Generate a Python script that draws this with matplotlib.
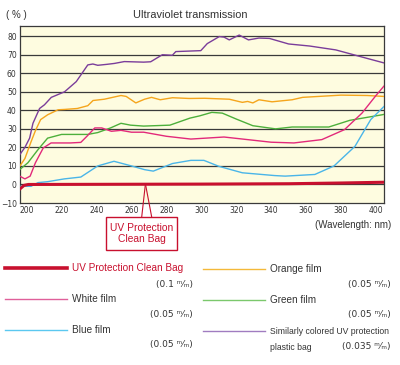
import matplotlib
matplotlib.use("Agg")
import matplotlib.pyplot as plt
from matplotlib.lines import Line2D
from matplotlib.patches import ConnectionPatch, Rectangle

# wavelength (nm) / transmission (%)
clean_wl = [196, 198.5, 201, 250, 300, 350, 380, 404.5]
clean_val = [-2.5, -0.5, 0.0, 0.1, 0.2, 0.4, 0.8, 1.2]

white_wl = [196, 199, 202, 205, 209.5, 214, 225, 231, 234.5, 239, 243, 248.5,
            254, 260, 267, 280, 294, 313, 340, 353, 369, 382, 392, 400, 404.5]
white_val = [4.5, 3, 4.5, 11.7, 19.7, 22.4, 22.4, 22.7, 26, 30.5, 30.5, 28.7,
             29.2, 28.2, 28.2, 26, 24.5, 25.6, 22.8, 22.4, 24.2, 29.6, 38.5, 48, 53]

blue_wl = [196, 202.5, 206.5, 212, 221.5, 231, 240.7, 250, 260, 267.5, 272.5,
           283.5, 294, 301.5, 310, 323.5, 342, 348, 365, 376, 388, 397, 404.5]
blue_val = [-1, -1, 1, 1.5, 3, 4, 10, 12.5, 10, 8, 7.2,
            11.3, 13, 13, 9.8, 6.3, 4.8, 4.5, 5.4, 10, 20.6, 35, 42]

orange_wl = [196, 199, 202.5, 205, 208, 212, 218, 222, 229, 235, 238, 244.5,
             254, 257, 262.5, 267.5, 271.5, 276.5, 283.5, 293, 302, 316, 323.5,
             326.5, 329.5, 333, 340.5, 352, 358, 380, 395, 404.5]
orange_val = [9.8, 14, 23, 29, 35, 37.6, 40.3, 40.5, 41, 42.5, 45.3, 46,
              48, 47.5, 44, 46, 47, 45.7, 46.8, 46.4, 46.5, 46, 44.3,
              44.8, 44, 45.7, 44.6, 45.7, 47, 48.2, 48, 47.5]

green_wl = [196, 200.7, 206.5, 212, 220, 235, 240.7, 248, 254, 259.5, 267,
            282, 293.5, 299, 306, 312, 320, 329.5, 342.5, 352, 373, 385,
            403.5, 404.5]
green_val = [8, 11.7, 18.8, 25, 27, 27, 28, 30.5, 33, 32, 31.5,
             32, 35.8, 37, 38.9, 38.5, 35.3, 31.7, 30, 31, 31, 34.6,
             37.6, 37.8]

purple_wl = [196, 199, 201.7, 203.6, 207.4, 210.2, 214.1, 221.7, 228.4, 235,
             237.9, 240.7, 245.8, 250.2, 255.9, 267, 271, 277.7, 283.4, 285.4,
             299.7, 303.4, 310.3, 313, 316, 321.7, 327, 333, 339, 350, 362,
             377, 386, 395, 404.5]
purple_val = [16, 20, 25, 33, 41, 43, 47, 50, 55.5, 64.5,
              65, 64.3, 64.8, 65.3, 66.3, 66, 66.2, 70, 69.7, 71.7,
              72.2, 76, 79.8, 79.5, 78, 80.6, 78, 79, 78.8, 75.8, 74.7,
              72.6, 70.3, 68, 65.6]

y_ticks = [-10, 0, 10, 20, 30, 40, 50, 60, 70, 80]
x_ticks = [200, 220, 240, 260, 280, 300, 320, 340, 360, 380, 400]

RED = "#C8102E"
DARK = "#333333"
COND = ["Liberation Sans", "DejaVu Sans"]

W, H = 400, 365


def fx(x):
    return x / W


def fy(y):
    return 1 - y / H


fig = plt.figure(figsize=(4, 3.65), dpi=100)
ax = fig.add_axes([fx(19.5), fy(203), (384 - 19.5) / W, (203 - 26) / H])
ax.set_facecolor("#FEFCE0")

for y in y_ticks[1:]:
    ax.axhline(y, color="#3a3a3a", lw=0.9, zorder=1)

ax.plot(purple_wl, purple_val, color="#7A3D9A", lw=1.0, zorder=3)
ax.plot(orange_wl, orange_val, color="#F5A51C", lw=1.0, zorder=3)
ax.plot(green_wl, green_val, color="#4DAF3B", lw=1.0, zorder=3)
ax.plot(white_wl, white_val, color="#E2297A", lw=1.0, zorder=3)
ax.plot(blue_wl, blue_val, color="#4AB5E8", lw=1.0, zorder=3)
ax.plot(clean_wl, clean_val, color=RED, lw=2.2, zorder=4)

ax.set_xlim(195.9, 404.6)
ax.set_ylim(-10, 85.5)
ax.set_xticks(x_ticks)
ax.set_yticks(y_ticks)
ax.tick_params(length=0, labelsize=5.5, labelcolor=DARK, pad=2)
for s in ax.spines.values():
    s.set_color("#3a3a3a")
    s.set_linewidth(0.9)

fig.text(fx(190), fy(15), "Ultraviolet transmission", ha="center", va="center",
         fontsize=7.9, color=DARK, family=COND)
fig.text(fx(6), fy(15), "( % )", ha="left", va="center", fontsize=7,
         color=DARK, family=COND)
fig.text(fx(391), fy(225), "(Wavelength: nm)", ha="right", va="center",
         fontsize=7, color=DARK, family=COND)

# callout to the red line
fig.add_artist(Rectangle((fx(106), fy(250)), 71 / W, 33 / H, fc="white",
                         ec=RED, lw=1.0, transform=fig.transFigure))
fig.text(fx(141.5), fy(233.5), "UV Protection\nClean Bag", ha="center",
         va="center", fontsize=7.4, color=RED, family=COND, linespacing=1.15)
for bx in (141.7, 151.7):
    cp = ConnectionPatch(xyA=(268, 0.3), coordsA=ax.transData,
                         xyB=(fx(bx), fy(217)), coordsB=fig.transFigure,
                         color=RED, lw=0.8)
    fig.add_artist(cp)

# legend
legend_items = [
    (5, 67, 268, RED, 2.6, "UV Protection Clean Bag", RED, 7.2, 193, 284, "(0.1 ᵐ⁄ₘ)"),
    (5, 67, 299, "#E0609A", 1.0, "White film", DARK, 7.2, 193, 314, "(0.05 ᵐ⁄ₘ)"),
    (5, 67, 330, "#5BC8F0", 1.0, "Blue film", DARK, 7.2, 193, 345, "(0.05 ᵐ⁄ₘ)"),
    (203, 265, 269, "#F4B93A", 1.0, "Orange film", DARK, 7.2, 391, 285, "(0.05 ᵐ⁄ₘ)"),
    (203, 265, 300, "#7BC86C", 1.0, "Green film", DARK, 7.2, 391, 314, "(0.05 ᵐ⁄ₘ)"),
    (203, 265, 331, "#A07CC0", 1.0, "Similarly colored UV protection", DARK, 6.2,
     391, 347, "(0.035 ᵐ⁄ₘ)"),
]
for x0, x1, y, c, lw, label, lc, fs, tx, ty, thick in legend_items:
    fig.add_artist(Line2D([fx(x0), fx(x1)], [fy(y), fy(y)], color=c, lw=lw,
                          transform=fig.transFigure))
    fig.text(fx(x1 + 5), fy(y), label, ha="left", va="center", fontsize=fs,
             color=lc, family=COND)
    fig.text(fx(tx), fy(ty), thick, ha="right", va="center", fontsize=6.5,
             color=DARK)
fig.text(fx(270), fy(347), "plastic bag", ha="left", va="center",
         fontsize=6.2, color=DARK, family=COND)

fig.savefig("out.png", dpi=100)
